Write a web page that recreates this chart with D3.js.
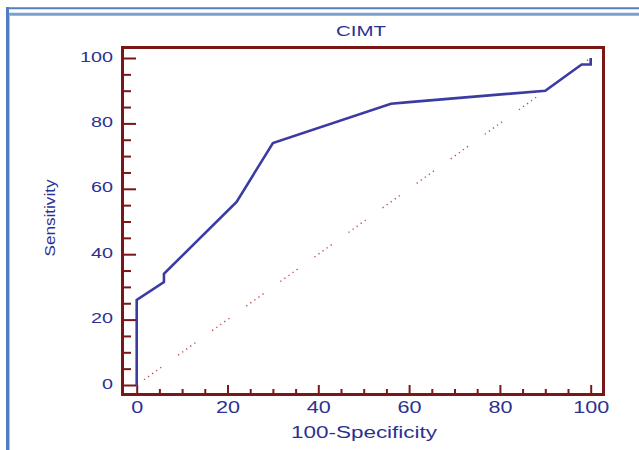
<!DOCTYPE html>
<html><head><meta charset="utf-8">
<script src="https://cdn.jsdelivr.net/npm/d3@7"></script>
<style>
html,body{margin:0;padding:0;background:#fff;}
svg{display:block;}
text{font-family:"Liberation Sans",Arial,sans-serif;fill:#2b3190;}
</style></head>
<body>
<svg id="c" width="639" height="450"></svg>
<script>
// ROC curve data (100-Specificity, Sensitivity)
const fpr = [0, 0, 6, 6, 22, 30, 56, 60, 90, 98, 100, 100];
const tpr = [0, 26, 31.5, 34, 56, 74, 86, 86.5, 90, 98, 98, 100];
const diagX = [0, 100];
const diagY = [0, 100];
const majorTicks = [0, 20, 40, 60, 80, 100];
const minorTicks = [5, 10, 15, 25, 30, 35, 45, 50, 55, 65, 70, 75, 85, 90, 95];
const title = "CIMT";
const xTitle = "100-Specificity";
const yTitle = "Sensitivity";

const svg = d3.select("#c");

// outer frame (blue)
svg.append("line").attr("x1",6).attr("x2",639).attr("y1",8.3).attr("y2",8.3)
  .attr("stroke","#4f7fbf").attr("stroke-width",2);
svg.append("line").attr("x1",6).attr("x2",639).attr("y1",14.2).attr("y2",14.2)
  .attr("stroke","#7aa0d0").attr("stroke-width",3);
svg.append("line").attr("x1",7.5).attr("x2",7.5).attr("y1",7).attr("y2",450)
  .attr("stroke","#4f7fbf").attr("stroke-width",3);
svg.append("line").attr("x1",9.5).attr("x2",9.5).attr("y1",15).attr("y2",450)
  .attr("stroke","#a9c4e8").attr("stroke-width",1);

const x = d3.scaleLinear().domain([0,100]).range([136.7, 590.7]);
const y = d3.scaleLinear().domain([0,100]).range([385, 58]);

const boxL = 122.5, boxR = 603.5, boxT = 47.5, boxB = 394.5;
const axisColor = "#7a1616";

// diagonal reference line
svg.append("line")
  .attr("x1", x(diagX[0])).attr("y1", y(diagY[0]))
  .attr("x2", x(diagX[1])).attr("y2", y(diagY[1]))
  .attr("stroke","#c0504d").attr("stroke-width",1.4)
  .attr("stroke-dasharray","1.3,3.7,1.3,3.7,1.3,3.7,1.3,3.7,1.3,20.7")
  .attr("stroke-dashoffset",33);

// ROC curve
const pts = fpr.map((v,i)=>[v,tpr[i]]);
svg.append("path")
  .attr("d", d3.line().x(d=>x(d[0])).y(d=>y(d[1]))(pts))
  .attr("fill","none").attr("stroke","#3a3ca2").attr("stroke-width",2.6)
  .attr("stroke-linejoin","miter");

// box
svg.append("rect").attr("x",boxL).attr("y",boxT)
  .attr("width",boxR-boxL).attr("height",boxB-boxT)
  .attr("fill","none").attr("stroke",axisColor).attr("stroke-width",3);

// y axis ticks
const yMajor = svg.append("g").attr("transform",`translate(${boxL+1.5},0)`)
  .call(d3.axisLeft(y).tickValues(majorTicks).tickSize(-12).tickPadding(11));
const yMinor = svg.append("g").attr("transform",`translate(${boxL+1.5},0)`)
  .call(d3.axisLeft(y).tickValues(minorTicks).tickSize(-7).tickFormat(""));
// x axis ticks
const xMajor = svg.append("g").attr("transform",`translate(0,${boxB-1.5})`)
  .call(d3.axisBottom(x).tickValues(majorTicks).tickSize(-8).tickPadding(0));
const xMinor = svg.append("g").attr("transform",`translate(0,${boxB-1.5})`)
  .call(d3.axisBottom(x).tickValues(minorTicks).tickSize(-4).tickFormat(""));

[yMajor,yMinor,xMajor,xMinor].forEach(g=>{
  g.select(".domain").remove();
  g.selectAll(".tick line").attr("stroke",axisColor).attr("stroke-width",2);
});

yMajor.selectAll(".tick text")
  .attr("font-size",14).attr("dy",null).attr("y",3)
  .attr("font-family","Liberation Sans, Arial, sans-serif")
  .attr("fill","#2b3190")
  .attr("textLength",d=>String(d).length*11)
  .attr("lengthAdjust","spacingAndGlyphs");

xMajor.selectAll(".tick text")
  .attr("font-size",16).attr("dy",null).attr("y",20)
  .attr("font-family","Liberation Sans, Arial, sans-serif")
  .attr("fill","#2b3190")
  .attr("textLength",d=>String(d).length*12)
  .attr("lengthAdjust","spacingAndGlyphs");

// titles
svg.append("text").attr("x",361).attr("y",36).attr("text-anchor","middle")
  .attr("font-size",15).attr("textLength",50).attr("lengthAdjust","spacingAndGlyphs")
  .text(title);
svg.append("text").attr("x",364).attr("y",438).attr("text-anchor","middle")
  .attr("font-size",16).attr("textLength",146).attr("lengthAdjust","spacingAndGlyphs")
  .text(xTitle);
svg.append("text").attr("transform","translate(55,218) rotate(-90)")
  .attr("text-anchor","middle")
  .attr("font-size",14).attr("textLength",77).attr("lengthAdjust","spacingAndGlyphs")
  .text(yTitle);
</script>
</body></html>
